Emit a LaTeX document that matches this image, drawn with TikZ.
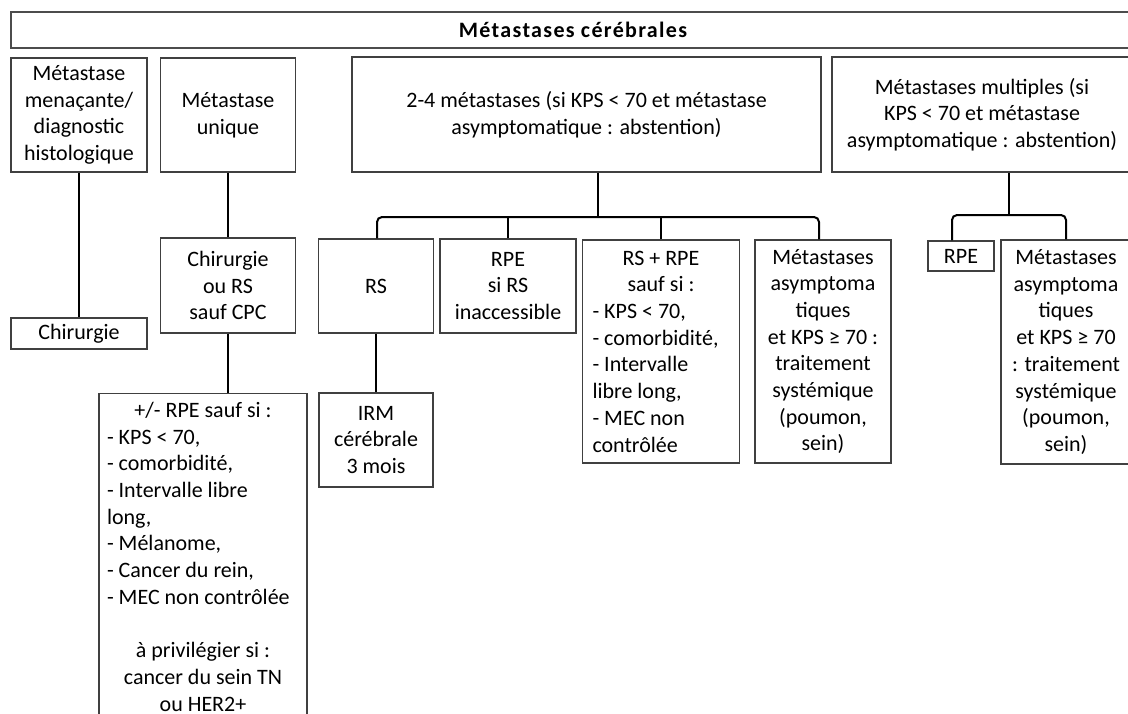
\documentclass[tikz,border=0pt]{standalone}
\usepackage{fontspec}
\setmainfont{Carlito}
\begin{document}
\begin{tikzpicture}[x=1pt,y=-1pt,
  txt/.style={font=\fontsize{22}{26.7}\selectfont},
  box/.style={draw=black!75, line width=1.2pt, inner sep=0pt, align=center, txt},
  titlebox/.style={draw=black!70, line width=1.6pt, inner sep=0pt, align=center,
     font=\fontsize{22}{26.7}\selectfont\bfseries\addfontfeature{LetterSpace=6}},
  conn/.style={line width=2pt, black}]
\useasboundingbox (0,0) rectangle (1128,713);
\fill[white] (0,0) rectangle (1128,713);
\clip (0,0) rectangle (1128,713);

\node[titlebox, minimum width=1124pt, minimum height=36pt] (title) at (573,30) {Métastases cérébrales};

\node[box, minimum width=136pt, minimum height=114pt] (b1) at (79,115)
  {Métastase\\ menaçante/\\ diagnostic\\ histologique};
\node[box, minimum width=135pt, minimum height=114pt] (b2) at (228,115)
  {Métastase\\ unique};
\node[box, minimum width=469pt, minimum height=115pt] (b3) at (586.5,114.5)
  {2-4 métastases (si KPS < 70 et métastase\\ asymptomatique : abstention)};
\node[box, minimum width=300pt, minimum height=115pt] (b4) at (982,114.5)
  {Métastases multiples (si\\ KPS < 70 et métastase\\ asymptomatique : abstention)};

\node[box, minimum width=136pt, minimum height=31pt] (c1) at (79,333.5) {Chirurgie};
\node[box, minimum width=135pt, minimum height=95pt] (c2) at (228,285.5)
  {Chirurgie\\ ou RS\\ sauf CPC};
\node[box, minimum width=115pt, minimum height=94pt] (rs) at (376,286) {RS};
\node[box, minimum width=136pt, minimum height=94pt] (rpe) at (508,286)
  {RPE\\ si RS\\ inaccessible};
\node[box, minimum width=157pt, minimum height=223pt, text width=137pt, align=flush left] (rsrpe) at (661,351.5)
  {\makebox[\linewidth]{RS + RPE}\\ \makebox[\linewidth]{sauf si :}\\ - KPS < 70,\\ - comorbidité,\\ - Intervalle\\ libre long,\\ - MEC non\\ contrôlée};
\node[box, minimum width=136pt, minimum height=223pt] (masym) at (823,351.5)
  {Métastases\\ asymptoma\\ tiques\\ et KPS ≥ 70 :\\ traitement\\ systémique\\ (poumon,\\ sein)};
\node[box, minimum width=66pt, minimum height=30pt] (rpe2) at (961,256) {RPE};
\node[box, minimum width=130pt, minimum height=224pt] (masym2) at (1066,352)
  {Métastases\\ asymptoma\\ tiques\\ et KPS ≥ 70\\ : traitement\\ systémique\\ (poumon,\\ sein)};
\node[box, minimum width=114pt, minimum height=94pt] (irm) at (376,440)
  {IRM\\ cérébrale\\ 3 mois};
\node[box, anchor=north, text width=192pt, align=flush left, inner xsep=8pt, inner ysep=8.5pt] (rpe3) at (203,393)
  {\makebox[\linewidth]{+/- RPE sauf si :}\\ - KPS < 70,\\ - comorbidité,\\ - Intervalle libre\\ long,\\ - Mélanome,\\ - Cancer du rein,\\ - MEC non contrôlée\\ \mbox{}\\ \makebox[\linewidth]{à privilégier si :}\\ \makebox[\linewidth]{cancer du sein TN}\\ \makebox[\linewidth]{ou HER2+}\rule[-20pt]{0pt}{0pt}};

% connectors
\draw[conn] (b1.south) -- (c1.north);
\draw[conn] (b2.south) -- (c2.north);
\draw[conn] (c2.south) -- (c2.south |- rpe3.north);
\draw[conn] (rs.south) -- (rs.south |- irm.north);

\coordinate (j1) at (598,217);
\draw[conn] (j1 |- b3.south) -- (j1);
\draw[conn, rounded corners=5pt] ([xshift=1pt]rs.north) |- (j1) -| ([xshift=-4pt]masym.north);
\draw[conn] (rpe.north) -- (rpe.north |- j1);
\draw[conn] (rsrpe.north) -- (rsrpe.north |- j1);

\coordinate (j2) at (1009,215);
\draw[conn] (j2 |- b4.south) -- (j2);
\draw[conn, rounded corners=5pt] ([xshift=-9pt]rpe2.north) |- (j2) -| (masym2.north);
\end{tikzpicture}
\end{document}
